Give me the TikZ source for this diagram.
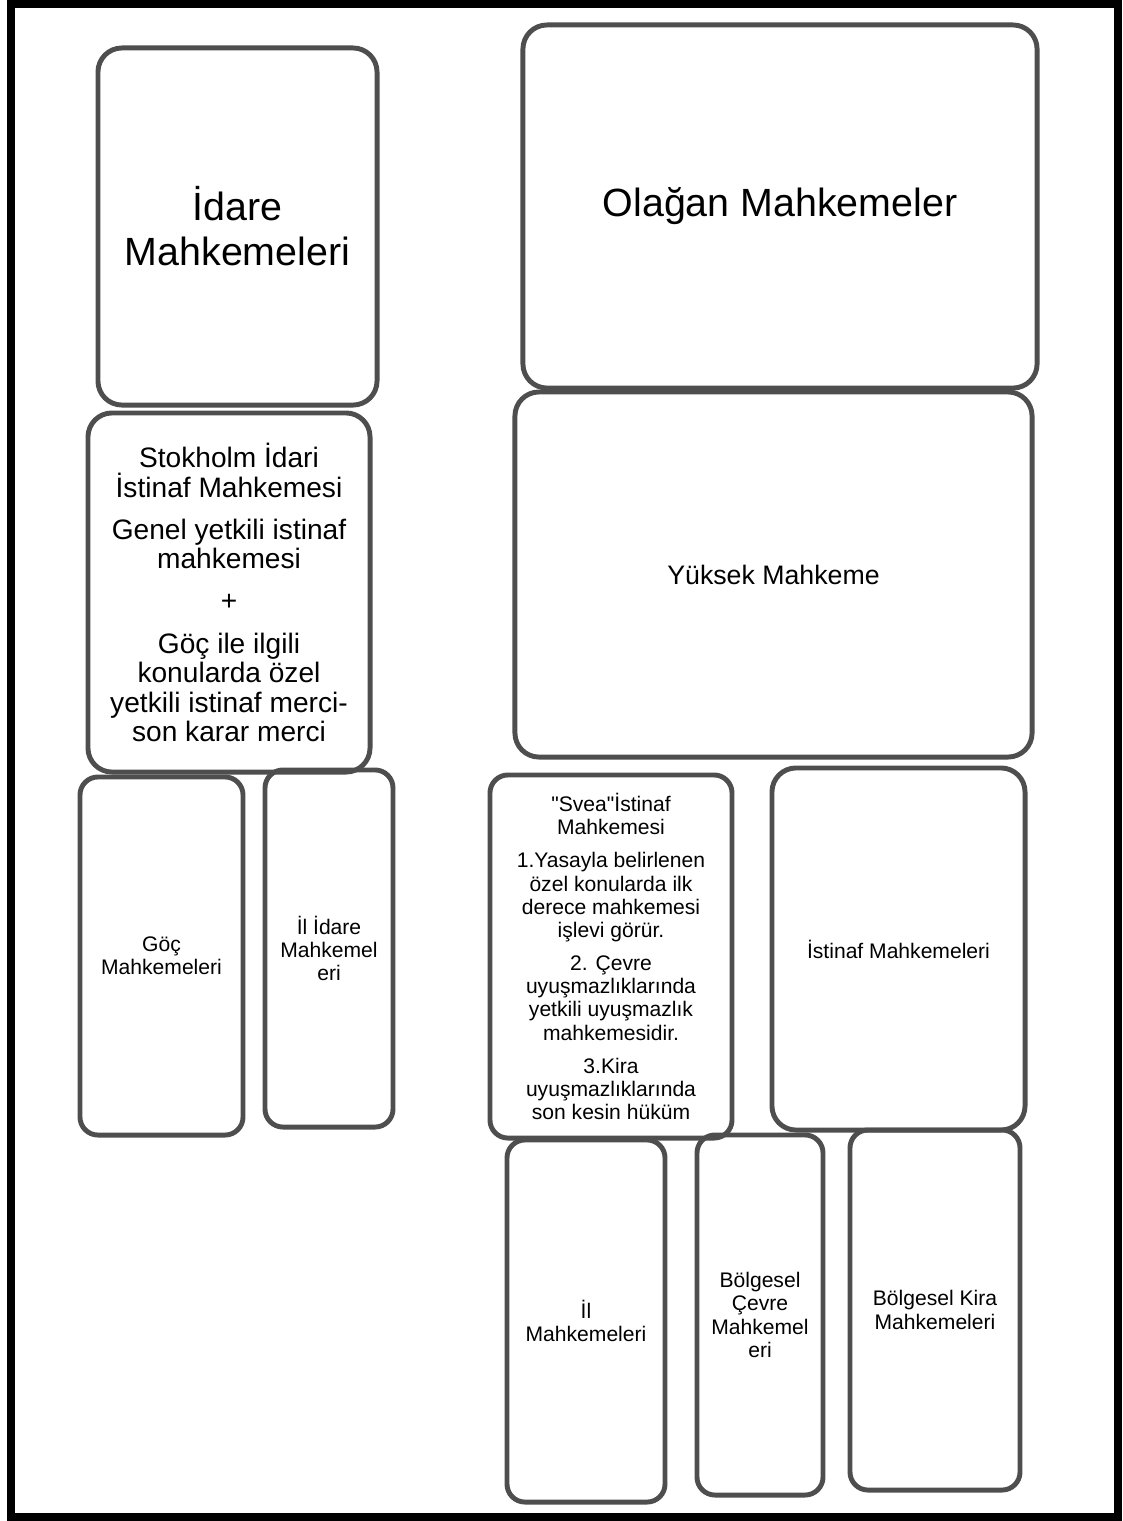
\documentclass[tikz,border=0pt]{standalone}
\usepackage{fontspec}
\setmainfont{Liberation Sans}[Ligatures=TeXOff]
\definecolor{boxgray}{RGB}{78, 78, 78}
\tikzset{
  court/.style={rectangle, rounded corners=0.6cm, draw=boxgray, line width=3.5pt, align=center, inner sep=2pt},
  bigcourt/.style={court, font=\fontsize{28}{32}\selectfont},
  midcourt/.style={court, font=\fontsize{20}{21}\selectfont},
  smallcourt/.style={court, rounded corners=0.45cm, font=\fontsize{15}{16.5}\selectfont},
  pageframe/.style={draw=black, line width=0.2cm}
}

\begin{document}
\begin{tikzpicture}[x=0.025cm, y=-0.025cm]
    \useasboundingbox (0,0) rectangle (1123,1521);
    % Outer frame of the scanned page
    \draw[pageframe] (11,4) rectangle (1118,1517);

    % Left column: administrative courts
    \node[bigcourt, minimum width=6.975cm, minimum height=8.925cm] (idare) at (237.5,226.5) {İdare\\Mahkemeleri};
    \node[midcourt, minimum width=7.05cm, minimum height=8.975cm] (stokholm) at (229,592.5)
        {Stokholm İdari\\İstinaf Mahkemesi\\[9pt]Genel yetkili istinaf\\mahkemesi\\[9pt]+\\[9pt]Göç ile ilgili\\konularda özel\\yetkili istinaf merci-\\son karar merci};
    \node[smallcourt, minimum width=4.075cm, minimum height=8.95cm] (goc) at (161.5,956) {Göç\\Mahkemeleri};
    \node[smallcourt, minimum width=3.2cm, minimum height=8.925cm] (ilidare) at (329,948.5) {İl İdare\\Mahkemel\\eri};

    % Right column: ordinary courts
    \node[bigcourt, minimum width=12.85cm, minimum height=9.075cm] (olagan) at (780,206.5) {Olağan Mahkemeler};
    \node[court, font=\fontsize{19}{21}\selectfont, minimum width=12.925cm, minimum height=9.125cm] (yuksek) at (773.5,574.5) {Yüksek Mahkeme};
    \node[smallcourt, minimum width=6.05cm, minimum height=9.075cm] (svea) at (611,956.5)
        {"Svea"İstinaf\\Mahkemesi\\[7pt]1.Yasayla belirlenen\\özel konularda ilk\\derece mahkemesi\\işlevi görür.\\[7pt]2. Çevre\\uyuşmazlıklarında\\yetkili uyuşmazlık\\mahkemesidir.\\[7pt]3.Kira\\uyuşmazlıklarında\\son kesin hüküm};
    \node[court, font=\fontsize{15}{16.5}\selectfont, minimum width=6.325cm, minimum height=9.05cm] (istinaf) at (898.5,949) {İstinaf Mahkemeleri};

    % Bottom row: first instance courts
    \node[smallcourt, minimum width=3.95cm, minimum height=9.05cm] (ilmah) at (586,1321) {İl\\Mahkemeleri};
    \node[smallcourt, minimum width=3.15cm, minimum height=9.0cm] (cevre) at (760,1315) {Bölgesel\\Çevre\\Mahkemel\\eri};
    \node[smallcourt, minimum width=4.25cm, minimum height=9.0cm] (kira) at (935,1310) {Bölgesel Kira\\Mahkemeleri};
\end{tikzpicture}
\end{document}
